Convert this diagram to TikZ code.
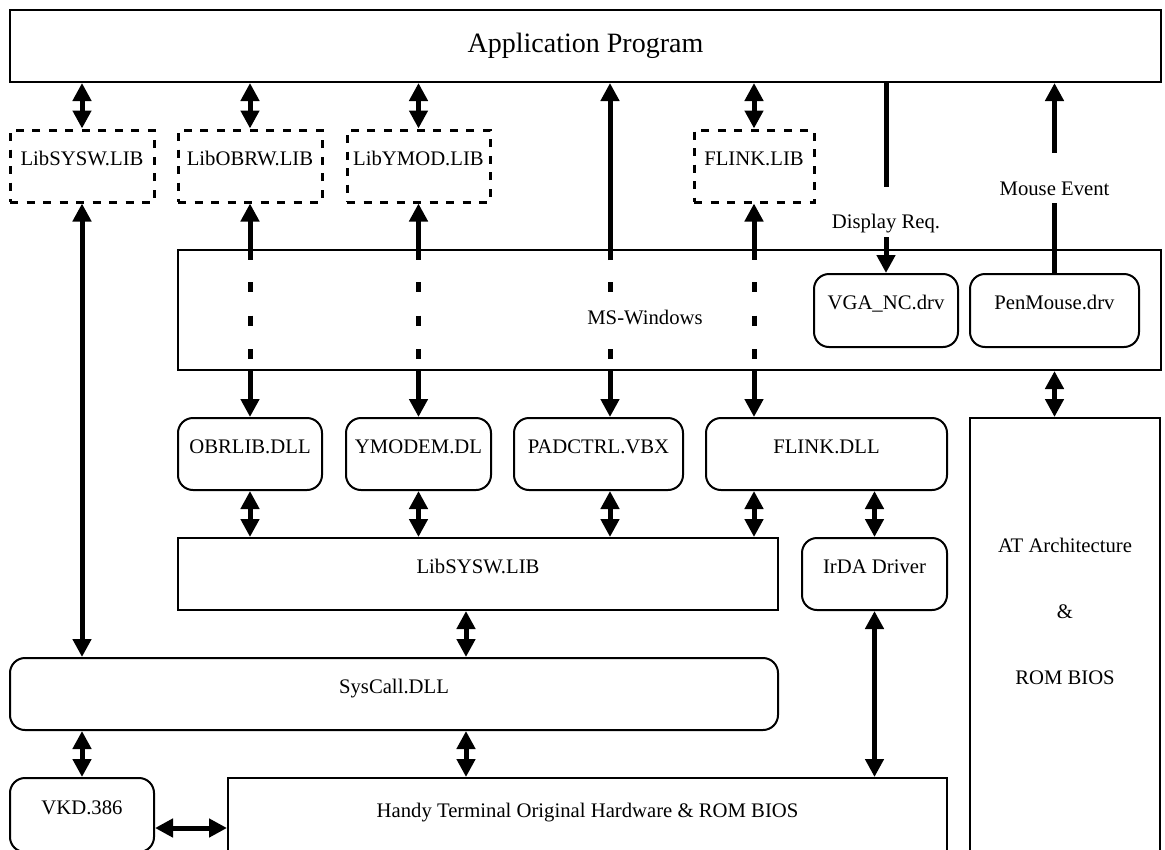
\documentclass[tikz,border=0pt]{standalone}
\usepackage{fontspec}
\setmainfont{Liberation Serif}
\usetikzlibrary{arrows.meta,calc}
\begin{document}
\begin{tikzpicture}[x=1pt,y=-1pt,
  font=\fontsize{20.7}{24}\selectfont,
  >={Triangle[length=18pt,width=18pt]},
  box/.style={draw, line width=2pt, inner sep=0pt, text height=14pt, text depth=16pt},
  rbox/.style={box, rounded corners=15pt},
  dbox/.style={draw, line width=3pt, dash pattern=on 8pt off 8.5pt, inner sep=0pt, text height=14pt, text depth=16pt},
  conn/.style={line width=5pt},
  dots/.style={line width=5pt, dash pattern=on 10pt off 23.5pt},
  gaplabel/.style={fill=white, inner sep=0pt, text height=42pt, text depth=8pt},
  plain/.style={inner sep=0pt}]
\useasboundingbox (0,0) rectangle (1165,849);
\clip (0,0) rectangle (1165,849);

% column coordinates
\coordinate (cpad) at (610,0);
\coordinate (cmid) at (466,0);
\coordinate (cvk) at (0,828);

% boxes
\node[box, font=\fontsize{28}{32}\selectfont, text height=19pt, text depth=7pt,
      minimum width=1151pt, minimum height=72pt] (app) at (585.5,46) {Application Program};

\node[dbox, minimum width=144pt, minimum height=72pt] (dsysw) at (82,166) {LibSYSW.LIB};
\node[dbox, minimum width=144pt, minimum height=72pt] (dobrw) at (250,166) {LibOBRW.LIB};
\node[dbox, minimum width=143pt, minimum height=72pt] (dymod) at (418.5,166) {LibYMOD.LIB};
\node[dbox, minimum width=120pt, minimum height=72pt] (dflink) at (754,166) {FLINK.LIB};

\node[box, minimum width=983pt, minimum height=120pt] (win) at (669.5,310) {};
\node[rbox, minimum width=144pt, minimum height=73pt] (vga) at (886,310.5) {VGA\_NC.drv};
\node[rbox, minimum width=169pt, minimum height=73pt] (pen) at (1054.5,310.5) {PenMouse.drv};

\node[rbox, minimum width=144pt, minimum height=72pt] (obrlib) at (250,454) {OBRLIB.DLL};
\node[rbox, minimum width=145pt, minimum height=72pt] (ymodem) at (418.5,454) {YMODEM.DL};
\node[rbox, minimum width=169pt, minimum height=72pt] (pad) at (598.5,454) {PADCTRL.VBX};
\node[rbox, minimum width=241pt, minimum height=72pt] (fdll) at (826.5,454) {FLINK.DLL};

\node[box, minimum width=600pt, minimum height=72pt] (lib) at (478,574) {LibSYSW.LIB};
\node[rbox, minimum width=145pt, minimum height=72pt] (irda) at (874.5,574) {IrDA Driver};

\node[box, minimum width=190pt, minimum height=442pt] (at) at (1065,639) {};
\node[plain, align=center, font=\fontsize{20.7}{66}\selectfont] (attext) at (1065,611)
  {AT Architecture\\ \&\\ ROM BIOS};

\node[rbox, minimum width=768pt, minimum height=72pt] (sys) at (394,694) {SysCall.DLL};
\node[rbox, minimum width=144pt, minimum height=74pt] (vkd) at (82,815) {VKD.386};
\node[box, minimum width=719pt, minimum height=80pt] (handy) at (587.5,818)
  {Handy Terminal Original Hardware \& ROM BIOS};

% App <-> libraries
\draw[conn,<->] (app.south -| dsysw.north) -- (dsysw.north);
\draw[conn,<->] (app.south -| dobrw.north) -- (dobrw.north);
\draw[conn,<->] (app.south -| dymod.north) -- (dymod.north);
\draw[conn,<->] (app.south -| dflink.north) -- (dflink.north);

% LibSYSW (dashed) <-> SysCall
\draw[conn,<->] (dsysw.south) -- (sys.north -| dsysw.south);

% through MS-Windows: OBRW
\draw[conn,<-] (dobrw.south) -- ($(win.north -| dobrw.south)+(0,11)$);
\draw[dots] ($(win.north -| dobrw.south)+(0,33)$) -- ($(win.north -| dobrw.south)+(0,110)$);
\draw[conn,->] ($(win.south -| dobrw.south)+(0,-2)$) -- (obrlib.north);
% YMOD
\draw[conn,<-] (dymod.south) -- ($(win.north -| dymod.south)+(0,11)$);
\draw[dots] ($(win.north -| dymod.south)+(0,33)$) -- ($(win.north -| dymod.south)+(0,110)$);
\draw[conn,->] ($(win.south -| dymod.south)+(0,-2)$) -- (ymodem.north);
% FLINK
\draw[conn,<-] (dflink.south) -- ($(win.north -| dflink.south)+(0,11)$);
\draw[dots] ($(win.north -| dflink.south)+(0,33)$) -- ($(win.north -| dflink.south)+(0,110)$);
\draw[conn,->] ($(win.south -| dflink.south)+(0,-2)$) -- (fdll.north -| dflink.south);
% PADCTRL
\draw[conn,->] ($(win.north -| cpad)+(0,11)$) -- (app.south -| cpad);
\draw[dots] ($(win.north -| cpad)+(0,33)$) -- ($(win.north -| cpad)+(0,110)$);
\draw[conn,->] ($(win.south -| cpad)+(0,-2)$) -- (pad.north -| cpad);

% MS-Windows label over the dashes
\node[plain, fill=white, inner xsep=1pt, inner ysep=6pt] (wtext) at (645,317) {MS-Windows};

% Display / Mouse
\draw[conn,->] (app.south -| vga.north) -- node[pos=0.677, gaplabel] (dreq) {Display Req.} (vga.north);
\draw[conn,->] (pen.north) -- node[pos=0.5, gaplabel] (mev) {Mouse Event} (app.south -| pen.north);

% MS-Windows <-> AT
\draw[conn,<->] (win.south -| pen.south) -- (at.north -| pen.south);

% DLLs <-> LibSYSW
\draw[conn,<->] (obrlib.south) -- (obrlib.south |- lib.north);
\draw[conn,<->] (ymodem.south) -- (ymodem.south |- lib.north);
\draw[conn,<->] (pad.south -| cpad) -- (lib.north -| cpad);
\draw[conn,<->] (fdll.south -| dflink.south) -- (lib.north -| dflink.south);
\draw[conn,<->] (fdll.south -| irda.north) -- (irda.north);

% lower layers
\draw[conn,<->] (lib.south -| cmid) -- (sys.north -| cmid);
\draw[conn,<->] (sys.south -| cmid) -- (handy.north -| cmid);
\draw[conn,<->] (sys.south -| vkd.north) -- (vkd.north);
\draw[conn,<->] (irda.south) -- (handy.north -| irda.south);
\draw[conn,<->] (vkd.east |- cvk) -- (handy.west |- cvk);
\end{tikzpicture}
\end{document}
